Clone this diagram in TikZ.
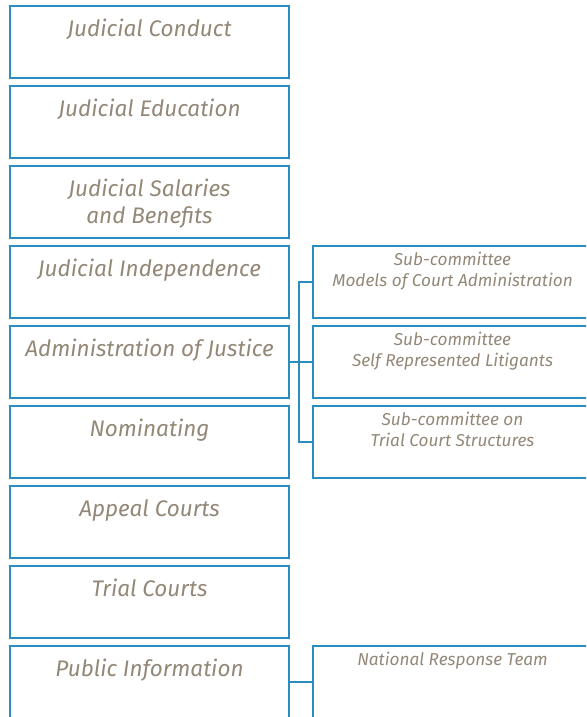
\documentclass[tikz,border=0pt]{standalone}
\usepackage{fontspec}
\setmainfont{Fira Sans}
\usepackage{xcolor}
\usepackage{tikz}
\usetikzlibrary{positioning}

\definecolor{boxblue}{HTML}{2A8DBF}
\definecolor{textgrey}{HTML}{938777}

\begin{document}
\begin{tikzpicture} [x = 1pt, y = -1pt,
					    group/.style = {draw = boxblue,
					    line width = 1.6pt,
					    minimum width = 279pt,
					    minimum height = 72pt,
					    inner sep = 0pt,
					    outer sep = 0pt},
					    caption/.style = {anchor = north,
					    inner sep = 0pt,
					    align = center,
					    text = textgrey},
					    title/.style = {caption,
					    yshift = -13pt,
					    font = \fontsize{22.5}{27}\selectfont\itshape},
					    subtitle/.style = {caption,
					    yshift = -6pt,
					    font = \fontsize{17.2}{21}\selectfont\itshape},
					    link/.style = {draw = boxblue, line width = 1.4pt},
					    node distance = 8pt]

					\useasboundingbox (0,0) rectangle (586,717);
					\clip (0,0) rectangle (586,717);

					\node (cond) at (149.5,42) [group] {};
					\node (educ) [group, below = of cond] {};
					\node (sal) [group, below = of educ] {};
					\node (ind) [group, below = of sal] {};
					\node (adm) [group, below = of ind] {};
					\node (nom) [group, below = of adm] {};
					\node (app) [group, below = of nom] {};
					\node (trial) [group, below = of app] {};
					\node (pub) [group, below = of trial] {};

					\node (sub1) [group, right = 24pt of ind] {};
					\node (sub2) [group, right = 24pt of adm] {};
					\node (sub3) [group, right = 24pt of nom] {};
					\node (nrt) [group, right = 24pt of pub] {};

					\node (cond-t) at (cond.north) [title] {Judicial Conduct};
					\node (educ-t) at (educ.north) [title] {Judicial Education};
					\node (sal-t) at (sal.north) [title] {Judicial Salaries\\and Benefits};
					\node (ind-t) at (ind.north) [title] {Judicial Independence};
					\node (adm-t) at (adm.north) [title] {Administration of Justice};
					\node (nom-t) at (nom.north) [title] {Nominating};
					\node (app-t) at (app.north) [title] {Appeal Courts};
					\node (trial-t) at (trial.north) [title] {Trial Courts};
					\node (pub-t) at (pub.north) [title] {Public Information};

					\node (sub1-t) at (sub1.north) [subtitle] {Sub-committee\\Models of Court Administration};
					\node (sub2-t) at (sub2.north) [subtitle] {Sub-committee\\Self Represented Litigants};
					\node (sub3-t) at (sub3.north) [subtitle] {Sub-committee on\\Trial Court Structures};
					\node (nrt-t) at (nrt.north) [subtitle] {National Response Team};

					\draw [link] (adm.east) -- (sub2.west);
					\draw [link] (sub1.west) -- ++(-14pt,0) |- (sub3.west);
					\draw [link] (pub.east) -- (nrt.west);
				\end{tikzpicture}
\end{document}
